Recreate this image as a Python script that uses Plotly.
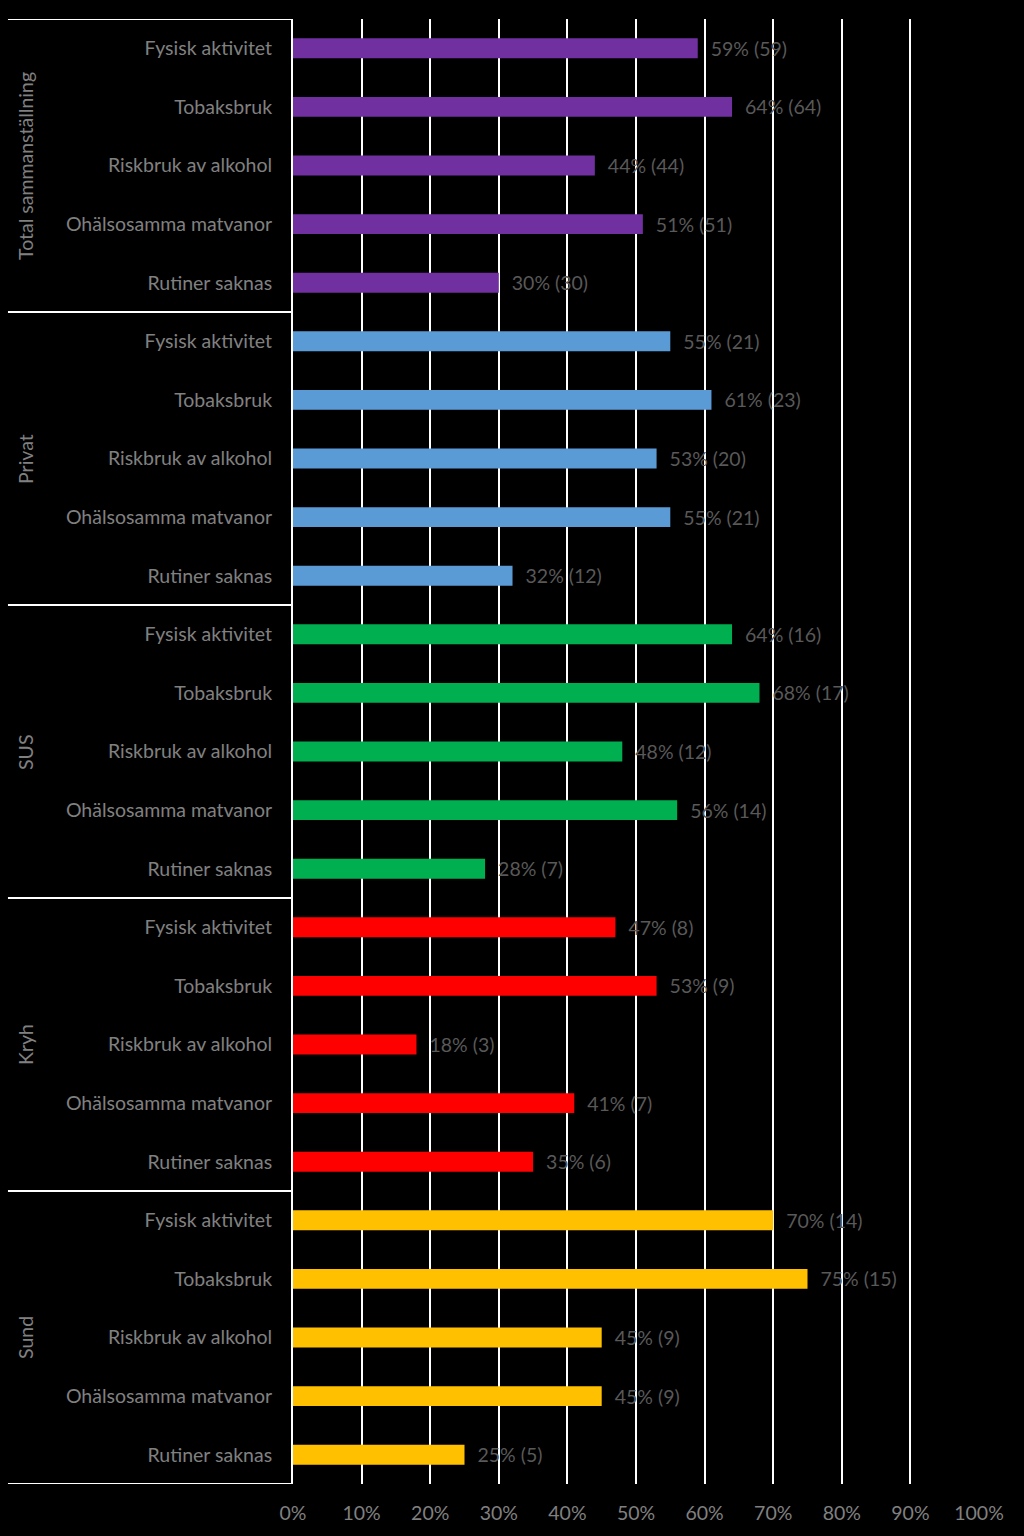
import plotly.graph_objects as go

groups = ["Total sammanställning", "Privat", "SUS", "Kryh", "Sund"]
items = ["Fysisk aktivitet", "Tobaksbruk", "Riskbruk av alkohol",
         "Ohälsosamma matvanor", "Rutiner saknas"]

total_pct = [59, 64, 44, 51, 30]
total_n = [59, 64, 44, 51, 30]
privat_pct = [55, 61, 53, 55, 32]
privat_n = [21, 23, 20, 21, 12]
sus_pct = [64, 68, 48, 56, 28]
sus_n = [16, 17, 12, 14, 7]
kryh_pct = [47, 53, 18, 41, 35]
kryh_n = [8, 9, 3, 7, 6]
sund_pct = [70, 75, 45, 45, 25]
sund_n = [14, 15, 9, 9, 5]

x_ticks = [0, 10, 20, 30, 40, 50, 60, 70, 80, 90, 100]

colors = ["#7030A0", "#5B9BD5", "#00B050", "#FF0000", "#FFC000"]
series = [(total_pct, total_n), (privat_pct, privat_n), (sus_pct, sus_n),
          (kryh_pct, kryh_n), (sund_pct, sund_n)]

FONT = "Lato"
LABEL_GREY = "#808080"
VALUE_GREY = "#595959"

fig = go.Figure()
n_items = len(items)
for gi, ((pct, cnt), color) in enumerate(zip(series, colors)):
    ys = [gi * n_items + i for i in range(n_items)]
    fig.add_trace(go.Bar(
        x=pct,
        y=ys,
        orientation="h",
        width=0.34,
        marker=dict(color=color, line=dict(width=0)),
        text=[f"  {p}% ({c})" for p, c in zip(pct, cnt)],
        textposition="outside",
        constraintext="none",
        textfont=dict(color=VALUE_GREY, size=19.5, family=FONT),
        cliponaxis=False,
        hoverinfo="skip",
        showlegend=False,
    ))

n_rows = len(groups) * n_items
tick_vals = list(range(n_rows))
tick_text = items * len(groups)

line_x0 = -0.4155
shapes = []
for k in range(len(groups) + 1):
    yv = k * n_items - 0.5
    shapes.append(dict(type="line", xref="paper", yref="y", x0=line_x0, x1=0,
                       y0=yv, y1=yv, line=dict(color="white", width=2)))

annotations = []
for gi, g in enumerate(groups):
    annotations.append(dict(
        text=g, xref="paper", yref="y", x=-0.39, y=gi * n_items + (n_items - 1) / 2,
        textangle=-90, showarrow=False, xanchor="center", yanchor="middle",
        font=dict(color=LABEL_GREY, size=19.5, family=FONT),
    ))

fig.update_layout(
    width=1024,
    height=1536,
    paper_bgcolor="black",
    plot_bgcolor="black",
    margin=dict(l=293, r=45, t=19, b=52),
    bargap=0.66,
    shapes=shapes,
    annotations=annotations,
    xaxis=dict(
        range=[0, 100],
        tickvals=x_ticks,
        ticktext=[f"{t}%" for t in x_ticks],
        showgrid=True,
        gridcolor="white",
        gridwidth=2,
        zeroline=False,
        ticks="outside",
        ticklen=12,
        tickcolor="black",
        tickfont=dict(color=LABEL_GREY, size=19.5, family=FONT),
        fixedrange=True,
    ),
    yaxis=dict(
        range=[n_rows - 0.5, -0.5],
        tickvals=tick_vals,
        ticktext=tick_text,
        showgrid=False,
        zeroline=False,
        showline=True,
        linecolor="white",
        linewidth=2,
        ticks="outside",
        ticklen=15,
        tickcolor="black",
        tickfont=dict(color=LABEL_GREY, size=19.5, family=FONT),
        fixedrange=True,
    ),
)

# remove the page's default white margin so the chart fills the window
fig.write_html(
    "out.html",
    config={"displayModeBar": False},
    post_script="document.body.style.margin='0';document.body.style.background='black';",
)
